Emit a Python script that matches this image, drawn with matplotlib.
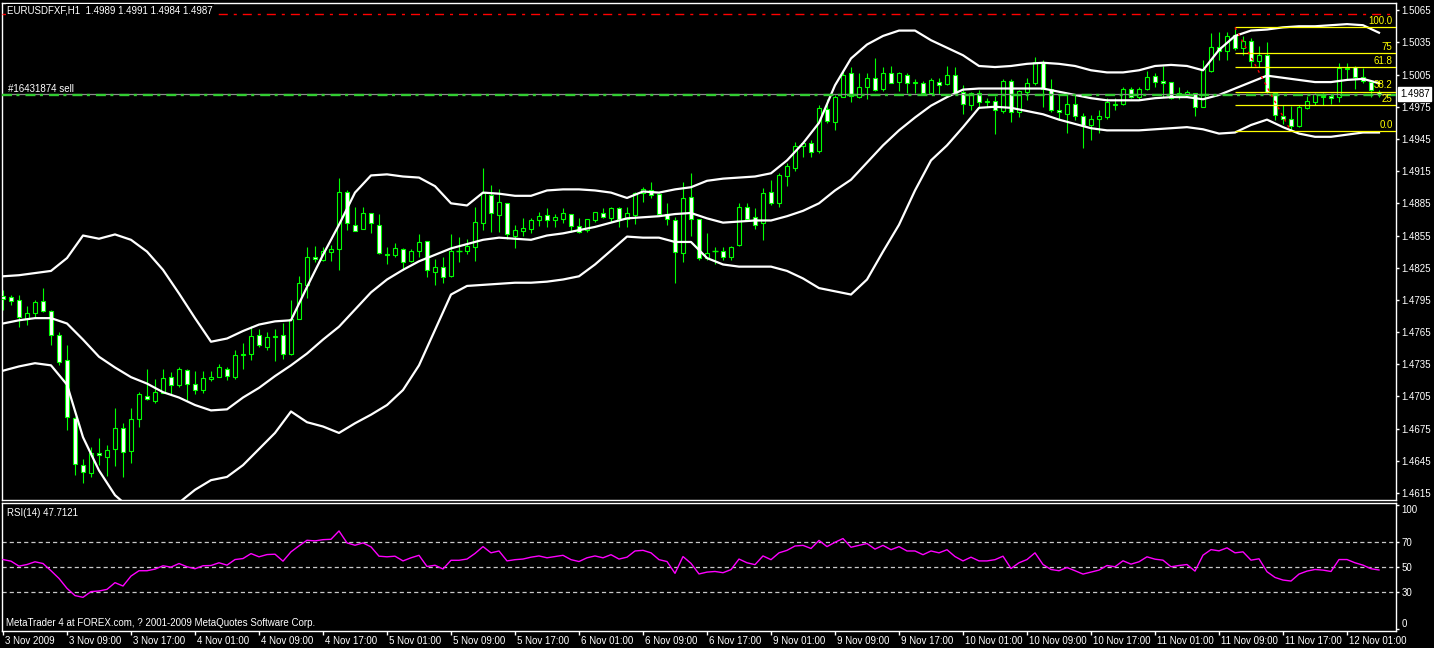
import numpy as np
import matplotlib
matplotlib.use("Agg")
import matplotlib.pyplot as plt
import matplotlib.transforms as mtransforms

plt.rcParams['font.family'] = ['Liberation Sans', 'DejaVu Sans']
plt.rcParams['lines.scale_dashes'] = False

# ---------------- data ----------------
symbol_title = "EURUSDFXF,H1  1.4989 1.4991 1.4984 1.4987"
rsi_title = "RSI(14) 47.7121"
footer = "MetaTrader 4 at FOREX.com, ? 2001-2009 MetaQuotes Software Corp."
order_label = "#16431874 sell"

time_labels = ["3 Nov 2009", "3 Nov 09:00", "3 Nov 17:00", "4 Nov 01:00", "4 Nov 09:00",
               "4 Nov 17:00", "5 Nov 01:00", "5 Nov 09:00", "5 Nov 17:00", "6 Nov 01:00",
               "6 Nov 09:00", "6 Nov 17:00", "9 Nov 01:00", "9 Nov 09:00", "9 Nov 17:00",
               "10 Nov 01:00", "10 Nov 09:00", "10 Nov 17:00", "11 Nov 01:00", "11 Nov 09:00",
               "11 Nov 17:00", "12 Nov 01:00"]

opens = [
    1.4799, 1.4798, 1.4795, 1.4777, 1.4783, 1.4794, 1.4785, 1.4762, 1.4739, 1.4685,
    1.4641, 1.4634, 1.4652, 1.4649, 1.4656, 1.4676, 1.4654, 1.4684, 1.4705, 1.4701,
    1.4708, 1.4723, 1.4716, 1.4730, 1.4717, 1.4711, 1.4721, 1.4723, 1.4731, 1.4723,
    1.4744, 1.4745, 1.4762, 1.4751, 1.4760, 1.4762, 1.4745, 1.4777, 1.4809, 1.4835,
    1.4832, 1.4840, 1.4842, 1.4896, 1.4865, 1.4861, 1.4876, 1.4865, 1.4838, 1.4837,
    1.4842, 1.4831, 1.4841, 1.4850, 1.4821, 1.4826, 1.4817, 1.4841, 1.4841, 1.4844,
    1.4867, 1.4893, 1.4874, 1.4885, 1.4855, 1.4859, 1.4861, 1.4869, 1.4874, 1.4869,
    1.4870, 1.4875, 1.4864, 1.4860, 1.4869, 1.4876, 1.4871, 1.4881, 1.4870, 1.4874,
    1.4895, 1.4897, 1.4894, 1.4875, 1.4869, 1.4839, 1.4891, 1.4870, 1.4834, 1.4841,
    1.4841, 1.4835, 1.4846, 1.4882, 1.4872, 1.4867, 1.4896, 1.4885, 1.4910, 1.4918,
    1.4938, 1.4941, 1.4934, 1.4973, 1.4961, 1.4984, 1.5006, 1.4984, 1.4993, 1.5002,
    1.4992, 1.5006, 1.4998, 1.5005, 1.4997, 1.4997, 1.4988, 1.4998, 1.4996, 1.5005,
    1.4989, 1.4977, 1.4988, 1.4979, 1.4980, 1.4971, 1.4999, 1.4970, 1.4989, 1.4997,
    1.5016, 1.4992, 1.4972, 1.4968, 1.4978, 1.4966, 1.4958, 1.4964, 1.4965, 1.4977,
    1.4978, 1.4992, 1.4984, 1.4992, 1.5004, 1.4999, 1.4998, 1.4986, 1.4986, 1.4988,
    1.4975, 1.5008, 1.5031, 1.5027, 1.5042, 1.5030, 1.5036, 1.5018, 1.5023, 1.4988,
    1.4966, 1.4964, 1.4957, 1.4974, 1.4979, 1.4984, 1.4985, 1.4984, 1.5010, 1.5012,
    1.5003, 1.4998, 1.4989]

highs = [
    1.4804, 1.4800, 1.4800, 1.4789, 1.4795, 1.4806, 1.4786, 1.4765, 1.4753, 1.4686,
    1.4647, 1.4658, 1.4666, 1.4660, 1.4694, 1.4680, 1.4694, 1.4709, 1.4731, 1.4721,
    1.4731, 1.4728, 1.4732, 1.4731, 1.4729, 1.4729, 1.4729, 1.4735, 1.4732, 1.4748,
    1.4755, 1.4771, 1.4768, 1.4765, 1.4768, 1.4773, 1.4795, 1.4817, 1.4844, 1.4845,
    1.4844, 1.4846, 1.4909, 1.4897, 1.4882, 1.4882, 1.4876, 1.4875, 1.4844, 1.4848,
    1.4843, 1.4842, 1.4856, 1.4850, 1.4833, 1.4835, 1.4856, 1.4854, 1.4852, 1.4882,
    1.4918, 1.4902, 1.4898, 1.4885, 1.4865, 1.4871, 1.4871, 1.4877, 1.4881, 1.4875,
    1.4881, 1.4875, 1.4871, 1.4870, 1.4877, 1.4881, 1.4882, 1.4882, 1.4882, 1.4896,
    1.4900, 1.4905, 1.4895, 1.4885, 1.4872, 1.4905, 1.4913, 1.4870, 1.4857, 1.4844,
    1.4844, 1.4845, 1.4885, 1.4885, 1.4881, 1.4899, 1.4907, 1.4913, 1.4923, 1.4942,
    1.4942, 1.4944, 1.4977, 1.4982, 1.4986, 1.5009, 1.5012, 1.5006, 1.5006, 1.5020,
    1.5012, 1.5013, 1.5007, 1.5006, 1.5001, 1.4999, 1.5002, 1.5002, 1.5013, 1.5012,
    1.4995, 1.4989, 1.4991, 1.4983, 1.4985, 1.5001, 1.5001, 1.4991, 1.5002, 1.5021,
    1.5019, 1.5001, 1.4986, 1.4986, 1.4987, 1.4969, 1.4967, 1.4972, 1.4983, 1.4983,
    1.4993, 1.4993, 1.4993, 1.5008, 1.5006, 1.5013, 1.4998, 1.4993, 1.4991, 1.4988,
    1.5019, 1.5044, 1.5045, 1.5045, 1.5049, 1.5041, 1.5039, 1.5032, 1.5035, 1.4989,
    1.4977, 1.4976, 1.4977, 1.4985, 1.4988, 1.4988, 1.4987, 1.5016, 1.5016, 1.5013,
    1.5011, 1.5000, 1.4991]

lows = [
    1.4786, 1.4790, 1.4770, 1.4772, 1.4779, 1.4784, 1.4753, 1.4734, 1.4674, 1.4632,
    1.4624, 1.4630, 1.4641, 1.4631, 1.4640, 1.4630, 1.4643, 1.4677, 1.4702, 1.4699,
    1.4708, 1.4707, 1.4714, 1.4702, 1.4707, 1.4708, 1.4719, 1.4723, 1.4720, 1.4721,
    1.4731, 1.4739, 1.4751, 1.4748, 1.4738, 1.4740, 1.4744, 1.4777, 1.4797, 1.4830,
    1.4831, 1.4831, 1.4823, 1.4860, 1.4859, 1.4861, 1.4857, 1.4838, 1.4828, 1.4835,
    1.4823, 1.4830, 1.4835, 1.4816, 1.4809, 1.4811, 1.4816, 1.4830, 1.4838, 1.4831,
    1.4860, 1.4858, 1.4858, 1.4852, 1.4843, 1.4855, 1.4857, 1.4864, 1.4863, 1.4863,
    1.4867, 1.4858, 1.4857, 1.4858, 1.4868, 1.4871, 1.4868, 1.4863, 1.4863, 1.4866,
    1.4886, 1.4890, 1.4874, 1.4865, 1.4811, 1.4830, 1.4855, 1.4832, 1.4832, 1.4828,
    1.4832, 1.4832, 1.4845, 1.4870, 1.4861, 1.4851, 1.4883, 1.4882, 1.4901, 1.4915,
    1.4928, 1.4928, 1.4932, 1.4960, 1.4953, 1.4984, 1.4979, 1.4983, 1.4982, 1.4990,
    1.4990, 1.4997, 1.4990, 1.4988, 1.4988, 1.4986, 1.4987, 1.4987, 1.4995, 1.4987,
    1.4968, 1.4972, 1.4974, 1.4975, 1.4950, 1.4969, 1.4961, 1.4965, 1.4981, 1.4995,
    1.4975, 1.4970, 1.4963, 1.4951, 1.4963, 1.4937, 1.4944, 1.4951, 1.4964, 1.4972,
    1.4977, 1.4983, 1.4981, 1.4991, 1.4993, 1.4984, 1.4982, 1.4982, 1.4984, 1.4966,
    1.4975, 1.5007, 1.5019, 1.5019, 1.5028, 1.5023, 1.5012, 1.5012, 1.4988, 1.4963,
    1.4959, 1.4952, 1.4956, 1.4973, 1.4977, 1.4977, 1.4978, 1.4979, 1.5000, 1.4992,
    1.4997, 1.4984, 1.4984]

closes = [
    1.4796, 1.4794, 1.4779, 1.4783, 1.4793, 1.4785, 1.4762, 1.4737, 1.4686, 1.4642,
    1.4635, 1.4652, 1.4650, 1.4655, 1.4676, 1.4653, 1.4684, 1.4707, 1.4703, 1.4709,
    1.4722, 1.4716, 1.4731, 1.4717, 1.4711, 1.4722, 1.4723, 1.4732, 1.4724, 1.4744,
    1.4745, 1.4761, 1.4753, 1.4760, 1.4761, 1.4745, 1.4777, 1.4811, 1.4835, 1.4833,
    1.4841, 1.4842, 1.4896, 1.4867, 1.4859, 1.4876, 1.4867, 1.4839, 1.4837, 1.4843,
    1.4830, 1.4841, 1.4849, 1.4823, 1.4826, 1.4816, 1.4841, 1.4841, 1.4845, 1.4868,
    1.4895, 1.4876, 1.4886, 1.4856, 1.4860, 1.4862, 1.4869, 1.4873, 1.4869, 1.4872,
    1.4876, 1.4864, 1.4858, 1.4870, 1.4877, 1.4872, 1.4881, 1.4870, 1.4876, 1.4895,
    1.4898, 1.4893, 1.4875, 1.4870, 1.4840, 1.4890, 1.4870, 1.4834, 1.4839, 1.4841,
    1.4835, 1.4844, 1.4882, 1.4870, 1.4865, 1.4895, 1.4885, 1.4911, 1.4920, 1.4938,
    1.4941, 1.4933, 1.4974, 1.4962, 1.4984, 1.5005, 1.4985, 1.4993, 1.5002, 1.4991,
    1.5006, 1.4997, 1.5006, 1.4997, 1.4998, 1.4988, 1.5000, 1.4995, 1.5005, 1.4988,
    1.4978, 1.4988, 1.4979, 1.4980, 1.4972, 1.4999, 1.4970, 1.4990, 1.4997, 1.5017,
    1.4992, 1.4972, 1.4970, 1.4978, 1.4966, 1.4958, 1.4964, 1.4966, 1.4979, 1.4978,
    1.4992, 1.4984, 1.4992, 1.5003, 1.4998, 1.4997, 1.4983, 1.4988, 1.4989, 1.4975,
    1.5010, 1.5031, 1.5027, 1.5041, 1.5030, 1.5036, 1.5018, 1.5023, 1.4989, 1.4967,
    1.4964, 1.4957, 1.4975, 1.4980, 1.4987, 1.4985, 1.4983, 1.5011, 1.5011, 1.5003,
    1.4999, 1.4991, 1.4987]

# Bollinger band values read at every second bar
bb_upper = [
    1.4817, 1.4818, 1.4820, 1.4822, 1.4834, 1.4855, 1.4852, 1.4856, 1.4851, 1.4840,
    1.4823, 1.4801, 1.4778, 1.4756, 1.4759, 1.4766, 1.4772, 1.4775, 1.4776, 1.4807,
    1.4837, 1.4865, 1.4895, 1.4911, 1.4912, 1.4910, 1.4909, 1.4901, 1.4885, 1.4883,
    1.4895, 1.4894, 1.4892, 1.4892, 1.4897, 1.4898, 1.4898, 1.4897, 1.4895, 1.4890,
    1.4896, 1.4895, 1.4898, 1.4900, 1.4906, 1.4908, 1.4909, 1.4910, 1.4913, 1.4925,
    1.4941, 1.4960, 1.4995, 1.5020, 1.5033, 1.5041, 1.5046, 1.5046, 1.5037, 1.5030,
    1.5023, 1.5013, 1.5012, 1.5013, 1.5015, 1.5016, 1.5015, 1.5013, 1.5009, 1.5007,
    1.5007, 1.5009, 1.5013, 1.5014, 1.5013, 1.5009, 1.5028, 1.5041, 1.5046, 1.5047,
    1.5049, 1.5050, 1.5050, 1.5051, 1.5052, 1.5051, 1.5044]
bb_middle = [
    1.4773, 1.4776, 1.4778, 1.4778, 1.4773, 1.4758, 1.4742, 1.4732, 1.4723, 1.4717,
    1.4709, 1.4704, 1.4697, 1.4692, 1.4693, 1.4704, 1.4713, 1.4724, 1.4734, 1.4745,
    1.4758, 1.4770, 1.4786, 1.4802, 1.4814, 1.4823, 1.4831, 1.4837, 1.4843, 1.4847,
    1.4851, 1.4853, 1.4852, 1.4851, 1.4855, 1.4857, 1.4860, 1.4863, 1.4867, 1.4871,
    1.4872, 1.4873, 1.4875, 1.4876, 1.4871, 1.4867, 1.4868, 1.4869, 1.4869, 1.4873,
    1.4878, 1.4885, 1.4897, 1.4907, 1.4923, 1.4939, 1.4953, 1.4965, 1.4976, 1.4984,
    1.4991, 1.4992, 1.4992, 1.4992, 1.4992, 1.4992, 1.4989, 1.4986, 1.4983, 1.4981,
    1.4981, 1.4981, 1.4983, 1.4984, 1.4984, 1.4982, 1.4986, 1.4992, 1.4998, 1.5004,
    1.5002, 1.5000, 1.4998, 1.4998, 1.5000, 1.5001, 1.4997]
bb_lower = [
    1.4729, 1.4733, 1.4736, 1.4734, 1.4716, 1.4667, 1.4636, 1.4613, 1.4600, 1.4594,
    1.4597, 1.4606, 1.4618, 1.4627, 1.4630, 1.4641, 1.4656, 1.4671, 1.4691, 1.4681,
    1.4677, 1.4671, 1.4680, 1.4688, 1.4697, 1.4711, 1.4734, 1.4767, 1.4800, 1.4808,
    1.4809, 1.4810, 1.4811, 1.4811, 1.4812, 1.4814, 1.4817, 1.4828, 1.4841, 1.4854,
    1.4853, 1.4853, 1.4849, 1.4849, 1.4834, 1.4828, 1.4826, 1.4826, 1.4826, 1.4822,
    1.4815, 1.4806, 1.4803, 1.4800, 1.4814, 1.4840, 1.4865, 1.4897, 1.4925, 1.4939,
    1.4956, 1.4974, 1.4975, 1.4974, 1.4971, 1.4968, 1.4963, 1.4959, 1.4955, 1.4953,
    1.4953, 1.4953, 1.4954, 1.4955, 1.4956, 1.4954, 1.4950, 1.4951, 1.4958, 1.4963,
    1.4956, 1.4950, 1.4947, 1.4947, 1.4949, 1.4951, 1.4951]

rsi = [
    56.1, 54.8, 50.8, 52.1, 54.3, 52.9, 47.1, 40.9, 32.9, 27.1,
    25.7, 30.3, 30.8, 32.1, 37.5, 34.8, 42.8, 47.1, 47.1, 48.4,
    51.1, 50.0, 52.9, 50.3, 48.7, 51.1, 51.3, 53.5, 51.6, 56.1,
    56.9, 60.9, 58.3, 60.1, 60.4, 54.8, 62.3, 67.1, 71.6, 71.1,
    72.1, 72.4, 79.1, 69.5, 67.6, 69.5, 66.3, 58.8, 58.3, 58.8,
    55.0, 57.5, 59.5, 50.5, 51.5, 48.5, 55.5, 55.5, 56.5, 61.0,
    66.5, 61.5, 63.0, 55.0, 56.0, 56.5, 58.0, 59.0, 57.5, 58.5,
    59.5, 56.0, 54.5, 57.5, 59.0, 57.5, 60.0, 56.5, 58.0, 63.0,
    63.5, 61.5, 56.0, 54.5, 45.0, 58.5, 53.0, 44.5, 46.0, 46.5,
    45.5, 48.0, 56.5, 53.5, 52.0, 59.0, 56.0, 61.5, 63.5, 67.0,
    67.5, 65.0, 71.5, 66.5, 70.0, 73.0, 66.0, 67.5, 69.0, 64.5,
    67.5, 64.0, 66.5, 63.0, 63.0, 60.0, 63.0, 61.5, 64.0, 58.5,
    55.0, 58.0, 55.0, 55.0, 56.0, 58.8, 48.9, 53.5, 56.1, 61.5,
    52.1, 48.1, 47.1, 49.7, 47.1, 44.4, 46.0, 47.6, 51.3, 50.3,
    55.1, 52.4, 54.3, 58.3, 56.4, 55.6, 50.3, 51.3, 52.1, 46.8,
    59.6, 64.1, 63.1, 65.5, 61.5, 62.3, 55.6, 56.7, 46.3, 41.7,
    39.6, 38.8, 44.4, 46.8, 48.1, 47.6, 46.5, 56.1, 56.1, 53.5,
    51.6, 48.7, 47.7121]
rsi_levels = [30, 50, 70]
rsi_ticks = [0, 30, 50, 70, 100]

bid_price = 1.4987
order_price = 1.4986
stop_price = 1.5061
fib_start_bar = 154
fib_end_bar = 161
fib_high = 1.5049
fib_low = 1.4952
fib_levels = [0.0, 25.0, 38.2, 61.8, 75.0, 100.0]
fib_labels = ["0.0", "25", "38.2", "61.8", "75", "100.0"]
price_ticks = [1.4615, 1.4645, 1.4675, 1.4705, 1.4735, 1.4765, 1.4795, 1.4825,
               1.4855, 1.4885, 1.4915, 1.4945, 1.4975, 1.5005, 1.5035, 1.5065]

# ---------------- figure ----------------
W, H = 1434, 648
fig = plt.figure(figsize=(W / 100, H / 100), dpi=100, facecolor='black')


def px_axes(left, top, right, bottom):
    return fig.add_axes([left / W, 1 - bottom / H, (right - left) / W, (bottom - top) / H])


ax = px_axes(2, 3, 1396, 500)
ar = px_axes(2, 503, 1396, 631)

GREEN = '#00FF00'
FS = 7

for a in (ax, ar):
    a.set_facecolor('black')
    for s in a.spines.values():
        s.set_color('white')
        s.set_linewidth(1.0)
    a.set_xlim(-0.125, 174.125)

n = len(closes)
x = np.arange(n)
o = np.array(opens)
c = np.array(closes)
h = np.array(highs)
l = np.array(lows)

# candles
ax.vlines(x, l, h, color=GREEN, lw=0.8, zorder=2)
faces = ['black' if cc > oo else 'white' for oo, cc in zip(o, c)]
ax.bar(x, np.abs(c - o), bottom=np.minimum(o, c), width=0.62, color=faces,
       edgecolor=GREEN, linewidth=0.8, zorder=3)
doji = np.isclose(o, c)
ax.hlines(o[doji], x[doji] - 0.35, x[doji] + 0.35, color=GREEN, lw=1.0, zorder=3)

# bollinger bands
bb_bars = np.arange(0, n, 2)
for band in (bb_upper, bb_middle, bb_lower):
    ax.plot(bb_bars, band, color='white', lw=1.6, zorder=4, solid_joinstyle='round')

# horizontal lines
ax.axhline(stop_price, color='red', lw=1.0, ls=(0, (6.5, 4.3, 2.2, 4.3)), zorder=5)
ax.axhline(bid_price, color='#8C8C8C', lw=0.9, zorder=5)
ax.axhline(order_price, color='#32CD32', lw=1.7, ls=(0, (7.2, 3.2, 2.2, 4.3)), zorder=5)

# fibonacci
for lvl, lab in zip(fib_levels, fib_labels):
    p = fib_low + (fib_high - fib_low) * lvl / 100.0
    ax.hlines(p, fib_start_bar, 174.2, color='#FFFF00', lw=0.9, zorder=5)
    ax.text(173.7, p + 0.00012, lab, color='#FFFF00', fontsize=FS, ha='right', va='bottom', zorder=6)
ax.plot([fib_start_bar, fib_end_bar], [fib_high, fib_low], color='red', lw=1.0,
        ls=(0, (2.0, 3.0)), zorder=6)

# price axis
ax.set_ylim(1.46085, 1.50717)
ax.set_xticks([])
ax.yaxis.tick_right()
ax.set_yticks(price_ticks)
ax.set_yticklabels([f"{p:.4f}" for p in price_ticks])
ax.tick_params(axis='y', colors='white', labelcolor='white', labelsize=FS, length=2.5, width=1, pad=1.5)

tr = mtransforms.blended_transform_factory(ax.transAxes, ax.transData)
ax.text(1.0 + 4 / 1394, bid_price, f"{bid_price:.4f}", transform=tr, color='black', fontsize=FS,
        ha='left', va='center', clip_on=False, zorder=10,
        bbox=dict(facecolor='white', edgecolor='white', pad=1.2))

# RSI panel
ar.plot(x, rsi, color='#FF00FF', lw=1.0, zorder=3)
for lv in rsi_levels:
    ar.axhline(lv, color='#C8C8C8', lw=0.9, ls=(0, (3.0, 2.2)), zorder=2)
ar.set_ylim(-1.4, 101.6)
ar.yaxis.tick_right()
ar.set_yticks(rsi_ticks)
ar.set_yticklabels([str(t) for t in rsi_ticks])
ar.tick_params(axis='y', colors='white', labelcolor='white', labelsize=FS, length=2.5, width=1, pad=1.5)
ylabs = ar.get_yticklabels()
ylabs[0].set_va('bottom')
ylabs[-1].set_va('top')

ar.set_xticks(np.arange(0, 8 * len(time_labels), 8))
ar.set_xticklabels(time_labels, ha='left')
ar.tick_params(axis='x', colors='white', labelcolor='white', labelsize=FS, length=2.8, width=1, pad=0.8)
offset = mtransforms.ScaledTranslation(2 / 100, 0, fig.dpi_scale_trans)
for lab in ar.get_xticklabels():
    lab.set_transform(lab.get_transform() + offset)

# texts
fig.text(7 / W, 1 - 10.7 / H, symbol_title, color='white', fontsize=FS, ha='left', va='center',
         bbox=dict(facecolor='black', edgecolor='none', pad=1.0), zorder=20)
fig.text(8 / W, 1 - 88.5 / H, order_label, color='white', fontsize=FS, ha='left', va='center', zorder=20)
fig.text(7 / W, 1 - 512.7 / H, rsi_title, color='white', fontsize=FS, ha='left', va='center', zorder=20)
fig.text(6 / W, 1 - 622.7 / H, footer, color='white', fontsize=FS, ha='left', va='center', zorder=20)

fig.savefig('out.png', dpi=100, facecolor='black')
